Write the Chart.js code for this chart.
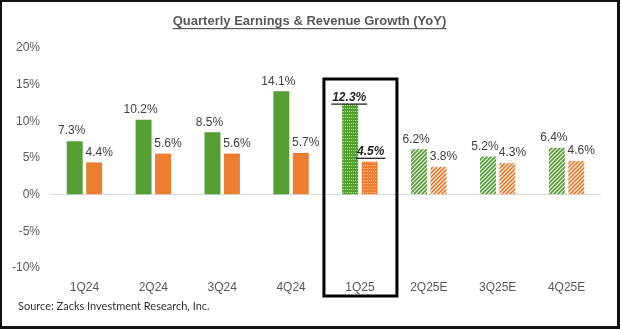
<!DOCTYPE html>
<html>
<head>
<meta charset="utf-8">
<script src="https://cdn.jsdelivr.net/npm/chart.js@4"></script>
<style>
  html, body { margin: 0; padding: 0; background: #fff; }
  #frame {
    width: 620px; height: 329px; box-sizing: border-box;
    border: 3px solid #111; border-left-width: 2px; border-top-width: 2px;
  }
  canvas { display: block; }
</style>
</head>
<body>
<div id="frame"><canvas id="growth" width="615" height="324"></canvas></div>
<script>
const quarters = ["1Q24", "2Q24", "3Q24", "4Q24", "1Q25", "2Q25E", "3Q25E", "4Q25E"];
const earningsGrowth = [7.3, 10.2, 8.5, 14.1, 12.3, 6.2, 5.2, 6.4];
const revenueGrowth = [4.4, 5.6, 5.6, 5.7, 4.5, 3.8, 4.3, 4.6];
const yTicks = [-10, -5, 0, 5, 10, 15, 20];

const GREEN = "#559e33";
const ORANGE = "#ed7d31";
const CURRENT = 4;   // 1Q25, the quarter in progress
const FONT = "'Liberation Sans', Arial, sans-serif";

// small fine-dot fill for the current quarter
function dotPattern(color) {
  const c = document.createElement("canvas");
  c.width = 2; c.height = 3;
  const g = c.getContext("2d");
  g.fillStyle = color;
  g.fillRect(0, 0, 2, 3);
  g.fillStyle = "rgba(255,255,255,0.6)";
  g.fillRect(1, 1, 1, 1);
  return g.createPattern(c, "repeat");
}

// wide upward diagonal stripes for the estimates
function stripePattern(color) {
  const s = 4;
  const c = document.createElement("canvas");
  c.width = s; c.height = s;
  const g = c.getContext("2d");
  g.fillStyle = "#fff";
  g.fillRect(0, 0, s, s);
  g.strokeStyle = color;
  g.lineWidth = 1.8;
  g.beginPath();
  g.moveTo(-1, s + 1); g.lineTo(s + 1, -1);
  g.moveTo(-1, 1); g.lineTo(1, -1);
  g.moveTo(s - 1, s + 1); g.lineTo(s + 1, s - 1);
  g.stroke();
  return g.createPattern(c, "repeat");
}

function fills(color) {
  return quarters.map((q, i) => {
    if (i < CURRENT) return color;
    if (i == CURRENT) return dotPattern(color);
    return stripePattern(color);
  });
}

// value labels above each bar
const valueLabels = {
  id: "valueLabels",
  afterDatasetsDraw(chart) {
    const ctx = chart.ctx;
    ctx.save();
    ctx.textAlign = "center";
    ctx.textBaseline = "middle";
    chart.data.datasets.forEach((ds, d) => {
      const meta = chart.getDatasetMeta(d);
      meta.data.forEach((bar, i) => {
        const txt = ds.data[i].toFixed(1) + "%";
        let x = bar.x + (d == 0 ? -3 : 5);
        let y = bar.y - 10;
        if (i == CURRENT) {
          x = bar.x + (d == 0 ? -1 : 1);
          y = bar.y - (d == 0 ? 7 : 10);
          ctx.font = "italic bold 12px " + FONT;
          ctx.fillStyle = "#262626";
          ctx.fillText(txt, x, y);
          const w = ctx.measureText(txt).width;
          ctx.fillRect(x - w / 2 - 1, y + 6, w + 2, 1.3);
        } else {
          ctx.font = "12px " + FONT;
          ctx.fillStyle = "#404040";
          ctx.fillText(txt, x, y);
        }
      });
    });
    ctx.restore();
  }
};

// title, source line and the box round the current quarter
const decorations = {
  id: "decorations",
  afterDraw(chart) {
    const ctx = chart.ctx;
    const area = chart.chartArea;
    ctx.save();
    ctx.fillStyle = "#595959";
    ctx.font = "bold 13px " + FONT;
    ctx.textAlign = "center";
    ctx.textBaseline = "middle";
    const title = "Quarterly Earnings & Revenue Growth (YoY)";
    const cx = chart.width / 2;
    ctx.fillText(title, cx, 19);
    const tw = ctx.measureText(title).width;
    ctx.fillRect(cx - tw / 2, 26, tw, 1.2);

    ctx.fillStyle = "#333";
    ctx.font = "11px Lato, 'Open Sans', sans-serif";
    ctx.textAlign = "left";
    ctx.fillText("Source: Zacks Investment Research, Inc.", 16, 304);

    const xc = chart.scales.x.getPixelForValue(CURRENT);
    ctx.strokeStyle = "#000";
    ctx.lineWidth = 3;
    ctx.strokeRect(xc - 36, area.top + 31, 73, area.bottom - area.top - 3);
    ctx.restore();
  }
};

new Chart(document.getElementById("growth"), {
  type: "bar",
  data: {
    labels: quarters,
    datasets: [
      { label: "Earnings", data: earningsGrowth, backgroundColor: fills(GREEN) },
      { label: "Revenue", data: revenueGrowth, backgroundColor: fills(ORANGE) }
    ]
  },
  plugins: [valueLabels, decorations],
  options: {
    responsive: false,
    animation: false,
    events: [],
    categoryPercentage: 0.565,
    barPercentage: 0.82,
    layout: { padding: { top: 46, right: 16, left: 0, bottom: 0 } },
    plugins: { legend: { display: false }, tooltip: { enabled: false } },
    scales: {
      x: {
        grid: { display: false, drawTicks: false },
        border: { display: false },
        ticks: { color: "#595959", font: { family: FONT, size: 12 }, padding: 12 },
        afterFit(scale) { scale.height = 58; }
      },
      y: {
        min: -10,
        max: 20,
        afterBuildTicks(scale) { scale.ticks = yTicks.map(v => ({ value: v })); },
        grid: {
          color: (c) => (c.tick && c.tick.value === 0 ? "#d9d9d9" : "rgba(0,0,0,0)"),
          drawTicks: false
        },
        border: { display: false },
        ticks: {
          color: "#595959",
          font: { family: FONT, size: 12 },
          padding: 10,
          callback: (v) => v + "%"
        },
        afterFit(scale) { scale.width = 48; }
      }
    }
  }
});
</script>
</body>
</html>
